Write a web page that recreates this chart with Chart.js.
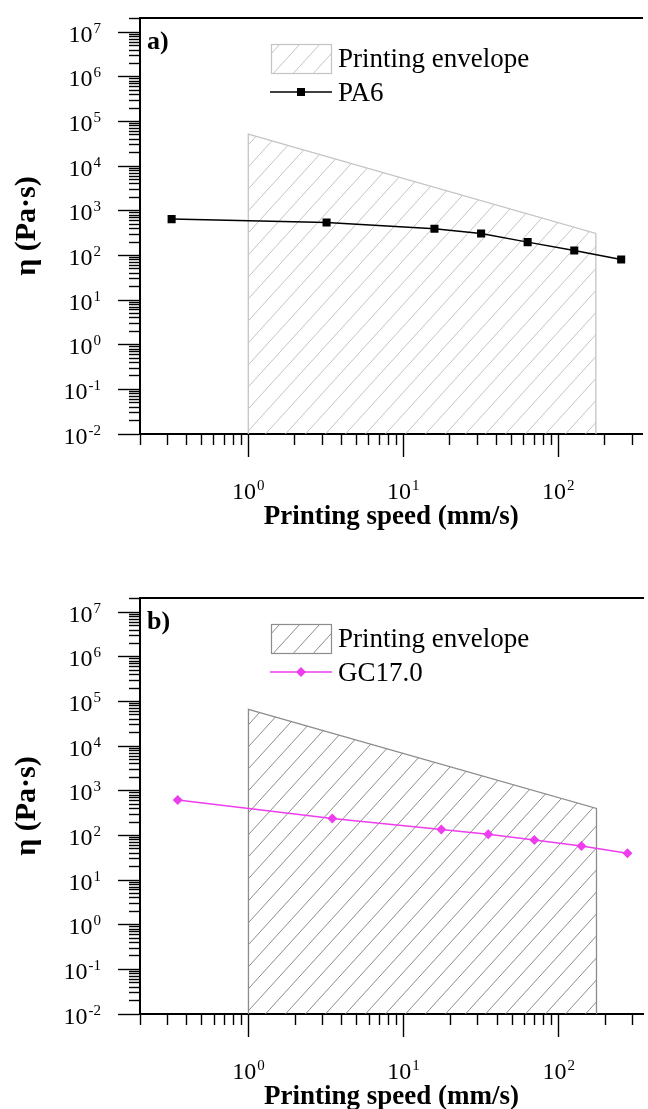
<!DOCTYPE html>
<html><head><meta charset="utf-8">
<script src="https://cdn.jsdelivr.net/npm/chart.js@4.4.1/dist/chart.umd.min.js"></script>
<style>
html,body{margin:0;padding:0;background:#fff;overflow:hidden;width:648px;height:1109px;}
.wrap{position:absolute;left:0;width:648px;height:560px;}
#w1{top:0}
#w2{top:580px}
canvas{display:block}
</style></head><body>
<div class="wrap" id="w1"><canvas id="c1" width="648" height="560"></canvas></div>
<div class="wrap" id="w2"><canvas id="c2" width="648" height="560"></canvas></div>
<script>
// ---------------- data ----------------
const panelLabels = ['a)', 'b)'];
const envelopeName = 'Printing envelope';
const seriesNames = ['PA6', 'GC17.0'];
const xTitle = 'Printing speed (mm/s)';
const yTitle = 'η (Pa·s)';

const envelopeSpeed = [1, 1, 175, 175];
const envelopeEtaA = [0.01, 52000, 311, 0.01];
const envelopeEtaB = [0.01, 67000, 403, 0.01];

const speedA = [0.32, 3.2, 15.9, 31.8, 63.5, 127, 255];
const etaA = [652, 550, 395, 311, 199, 129, 81];

const speedB = [0.35, 3.47, 17.5, 35.1, 69.6, 140, 277];
const etaB = [625, 240, 136, 107, 78.7, 57.8, 39.8];

const xRange = [0.2, 349];
const yRange = [0.01, 2.09e7];
const xMajorTicks = [1, 10, 100];
const yMajorTicks = [1e-2, 1e-1, 1, 10, 100, 1e3, 1e4, 1e5, 1e6, 1e7];
const minorMultipliers = [2, 3, 4, 5, 6, 7, 8, 9];

// ---------------- helpers ----------------
const SERIF = '"Liberation Serif", "Times New Roman", serif';

function minorTicks(range) {
  const out = [];
  const lo = Math.floor(Math.log10(range[0])), hi = Math.ceil(Math.log10(range[1]));
  for (let e = lo; e <= hi; e++) {
    for (const m of minorMultipliers) {
      const v = m * Math.pow(10, e);
      if (v >= range[0] * 0.999 && v <= range[1] * 1.001) out.push(v);
    }
  }
  return out;
}

function hatch(ctx, color, W, H, lw) {
  const c = document.createElement('canvas');
  c.width = W; c.height = H;
  const g = c.getContext('2d');
  g.strokeStyle = color; g.lineWidth = lw;
  g.beginPath();
  for (const dx of [-W, 0, W]) { g.moveTo(dx, H); g.lineTo(dx + W, 0); }
  g.stroke();
  return ctx.createPattern(c, 'repeat');
}

function drawPow(ctx, exp, x, baseY, align) {
  const base = '10', e = String(exp);
  ctx.font = '24px ' + SERIF;
  const wb = ctx.measureText(base).width;
  ctx.font = '15px ' + SERIF;
  const we = ctx.measureText(e).width;
  const total = wb + 1 + we;
  const x0 = align === 'right' ? x - total : x - total / 2;
  ctx.textAlign = 'left';
  ctx.textBaseline = 'alphabetic';
  ctx.font = '24px ' + SERIF;
  ctx.fillText(base, x0, baseY);
  ctx.font = '15px ' + SERIF;
  ctx.fillText(e, x0 + wb + 1, baseY - 9);
}

const decor = {
  id: 'decor',
  afterDraw(chart, args, opts) {
    const ctx = chart.ctx;
    const xs = chart.scales.x, ys = chart.scales.y;
    const area = chart.chartArea;
    ctx.save();
    ctx.fillStyle = '#000';
    xs.ticks.forEach(t => {
      const e = Math.round(Math.log10(t.value));
      drawPow(ctx, e, xs.getPixelForValue(t.value), area.bottom + 65, 'center');
    });
    ys.ticks.forEach(t => {
      const e = Math.round(Math.log10(t.value));
      const py = ys.getPixelForValue(t.value);
      drawPow(ctx, e, area.left - 39, py + 9.5, 'right');
    });
    ctx.font = 'bold 26px ' + SERIF;
    ctx.textAlign = 'left';
    ctx.textBaseline = 'alphabetic';
    ctx.fillText(opts.panel, area.left + 7, area.top + 31);
    const env = chart.data.datasets[0], ser = chart.data.datasets[1];
    const bx = area.left + 131, by = area.top + 26, bw = 60, bh = 29;
    ctx.fillStyle = env.backgroundColor;
    ctx.fillRect(bx, by, bw, bh);
    ctx.strokeStyle = env.borderColor;
    ctx.lineWidth = 1.2;
    ctx.strokeRect(bx + 0.5, by + 0.5, bw, bh);
    ctx.fillStyle = '#000';
    ctx.font = '27px ' + SERIF;
    ctx.fillText(env.label, bx + 67, area.top + 49);
    const ly = area.top + 74;
    ctx.strokeStyle = ser.borderColor;
    ctx.lineWidth = ser.borderWidth;
    ctx.beginPath(); ctx.moveTo(bx - 1, ly); ctx.lineTo(bx + bw + 1, ly); ctx.stroke();
    ctx.fillStyle = ser.pointBackgroundColor;
    Chart.helpers.drawPoint(ctx, {pointStyle: ser.pointStyle, radius: ser.pointRadius, rotation: 0, borderWidth: 0}, bx + bw / 2, ly);
    ctx.fillStyle = '#000';
    ctx.font = '27px ' + SERIF;
    ctx.fillText(ser.label, bx + 67, area.top + 83);
    ctx.restore();
  }
};

function makeChart(id, cfg) {
  const canvas = document.getElementById(id);
  const ctx = canvas.getContext('2d');
  const H = canvas.height;
  const pattern = hatch(ctx, cfg.hatchColor, 20, 22, 1);
  const tickStyle = (len) => ({display: true, drawOnChartArea: false, drawTicks: true, tickLength: len, tickWidth: 1.4, tickColor: '#000'});
  new Chart(ctx, {
    type: 'line',
    data: {
      datasets: [
        {
          label: envelopeName,
          data: envelopeSpeed.map((x, i) => ({x, y: cfg.envEta[i]})),
          borderColor: cfg.envBorder, borderWidth: 1.3,
          backgroundColor: pattern, fill: 'start',
          pointRadius: 0, tension: 0, order: 2
        },
        {
          label: cfg.name,
          data: cfg.speed.map((x, i) => ({x, y: cfg.eta[i]})),
          borderColor: cfg.color, borderWidth: 1.5,
          pointStyle: cfg.pointStyle, pointRadius: cfg.pointRadius,
          pointBackgroundColor: cfg.color, pointBorderColor: cfg.color, pointBorderWidth: 0,
          fill: false, tension: 0, order: 1
        }
      ]
    },
    options: {
      responsive: false, animation: false,
      layout: {padding: {top: 18, left: 0, right: 0, bottom: 0}},
      plugins: {legend: {display: false}, tooltip: {enabled: false}, decor: {panel: cfg.panel}},
      scales: {
        x: {
          type: 'logarithmic', position: 'bottom', weight: 1,
          min: xRange[0], max: xRange[1],
          afterBuildTicks: s => { s.ticks = xMajorTicks.map(v => ({value: v, major: true})); },
          afterFit: s => { s.height = H - 434; },
          grid: tickStyle(23),
          border: {display: true, color: '#000', width: 2},
          ticks: {display: false, autoSkip: false},
          title: {display: true, text: xTitle, color: '#000', font: {family: SERIF, size: 27, weight: 'bold'}, padding: {top: 0, bottom: 27}}
        },
        xMinor: {
          type: 'logarithmic', position: 'bottom', weight: 0,
          min: xRange[0], max: xRange[1],
          afterBuildTicks: s => { s.ticks = minorTicks(xRange).map(v => ({value: v})); },
          afterFit: s => { s.height = 0; },
          grid: tickStyle(11),
          border: {display: false},
          ticks: {display: false, autoSkip: false}
        },
        xTop: {
          type: 'logarithmic', position: 'top',
          min: xRange[0], max: xRange[1],
          afterFit: s => { s.height = 0; },
          grid: {display: false, drawTicks: false},
          border: {display: true, color: '#000', width: 2},
          ticks: {display: false}
        },
        y: {
          type: 'logarithmic', position: 'left', weight: 1,
          min: yRange[0], max: yRange[1],
          afterBuildTicks: s => { s.ticks = yMajorTicks.map(v => ({value: v, major: true})); },
          afterFit: s => { s.width = 140; },
          grid: tickStyle(22),
          border: {display: true, color: '#000', width: 2},
          ticks: {display: false, autoSkip: false},
          title: {display: true, text: yTitle, color: '#000', font: {family: SERIF, size: 30, weight: 'bold'}, padding: {top: 9, bottom: 0}}
        },
        yMinor: {
          type: 'logarithmic', position: 'left', weight: 0,
          min: yRange[0], max: yRange[1],
          afterBuildTicks: s => { s.ticks = minorTicks(yRange).map(v => ({value: v})); },
          afterFit: s => { s.width = 0; },
          grid: tickStyle(11),
          border: {display: false},
          ticks: {display: false, autoSkip: false}
        }
      }
    },
    plugins: [decor]
  });
}

function build() {
  makeChart('c1', {
    panel: panelLabels[0], name: seriesNames[0], speed: speedA, eta: etaA, envEta: envelopeEtaA,
    color: '#000000', pointStyle: 'rect', pointRadius: 5.7,
    hatchColor: '#c4c4c4', envBorder: '#c4c4c4'
  });
  makeChart('c2', {
    panel: panelLabels[1], name: seriesNames[1], speed: speedB, eta: etaB, envEta: envelopeEtaB,
    color: '#ee3dee', pointStyle: 'rectRot', pointRadius: 5,
    hatchColor: '#8c8c8c', envBorder: '#8c8c8c'
  });
}
if (document.fonts && document.fonts.load) {
  Promise.all([
    document.fonts.load('24px "Liberation Serif"'),
    document.fonts.load('bold 26px "Liberation Serif"')
  ]).then(build, build);
} else build();
</script>
</body></html>
